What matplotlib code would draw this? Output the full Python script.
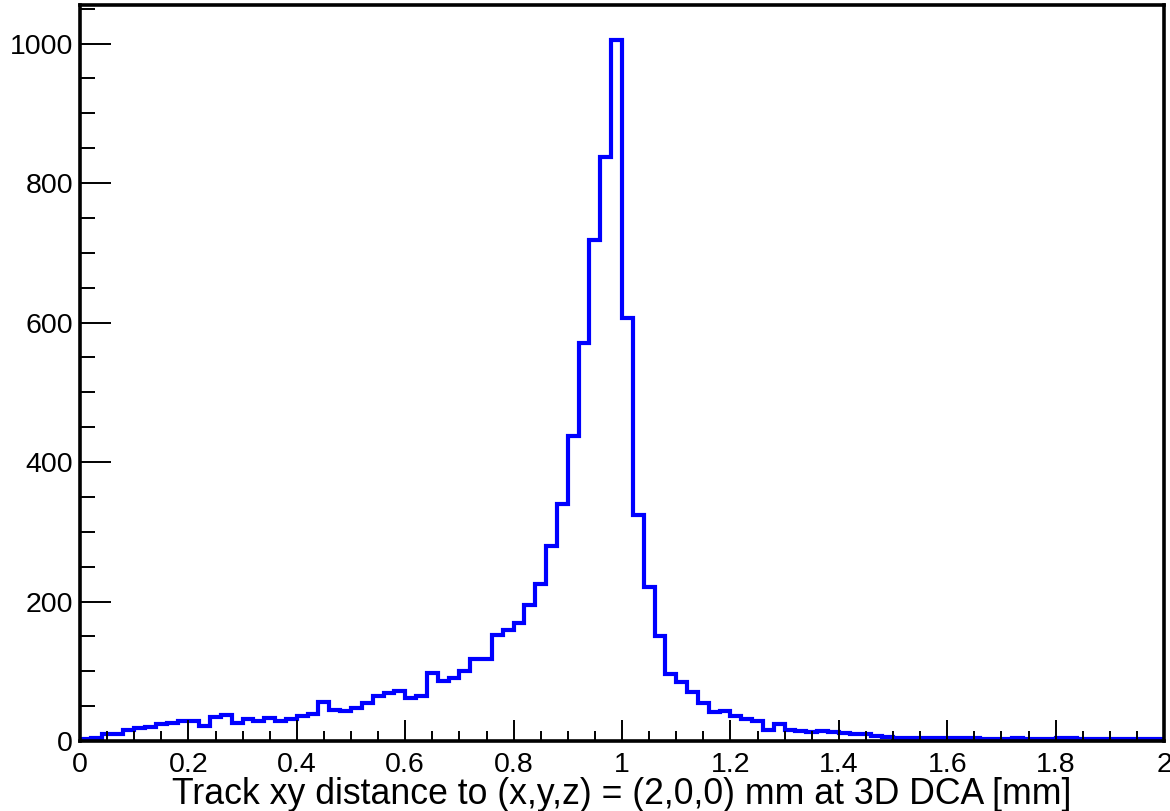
import numpy as np
import matplotlib
matplotlib.use("Agg")
import matplotlib.pyplot as plt

# bin edges: 100 bins from 0 to 2 mm
bin_lo = 0.0
bin_hi = 2.0
n_bins = 100

# counts per bin
counts = [
    3, 5, 10, 10, 16, 19, 20, 24, 26, 28,
    28, 21, 35, 37, 26, 32, 28, 33, 28, 32,
    36, 38, 56, 44, 43, 48, 55, 64, 69, 72,
    62, 65, 98, 86, 90, 101, 118, 118, 152, 159,
    169, 195, 225, 279, 340, 437, 570, 719, 837, 1005,
    606, 324, 221, 151, 96, 85, 70, 55, 41, 43,
    36, 31, 28, 16, 24, 16, 14, 13, 14, 13,
    12, 10, 10, 7, 6, 5, 5, 5, 5, 4,
    4, 4, 4, 3, 3, 3, 4, 3, 3, 3,
    4, 4, 3, 3, 3, 3, 3, 3, 3, 3,
]

x_ticks = [0, 0.2, 0.4, 0.6, 0.8, 1.0, 1.2, 1.4, 1.6, 1.8, 2.0]
x_tick_labels = ["0", "0.2", "0.4", "0.6", "0.8", "1", "1.2", "1.4", "1.6", "1.8", "2"]
y_ticks = [0, 200, 400, 600, 800, 1000]
x_title = "Track xy distance to (x,y,z) = (2,0,0) mm at 3D DCA [mm]"

plt.rcParams['font.family'] = ['Liberation Sans', 'DejaVu Sans']

W, H = 1170, 811
fig = plt.figure(figsize=(W / 100, H / 100), dpi=100)
ax = fig.add_axes([80 / W, 70 / H, (1164 - 80) / W, (741 - 5) / H])

edges = np.linspace(bin_lo, bin_hi, n_bins + 1)
ax.stairs(counts, edges, baseline=None, color='#0000ff', linewidth=3.0)

ax.set_xlim(bin_lo, bin_hi)
ax.set_ylim(0, max(counts) * 1.05)

ax.set_xticks(x_ticks)
ax.set_xticklabels(x_tick_labels)
ax.set_xticks(np.arange(0, 2.0001, 0.05), minor=True)
ax.set_yticks(y_ticks)
ax.set_yticks(np.arange(0, 1051, 50), minor=True)

ax.tick_params(axis='both', which='both', direction='in', width=1.4,
               top=False, right=False, labelsize=20.5)
ax.tick_params(axis='x', which='major', length=15, pad=8)
ax.tick_params(axis='x', which='minor', length=7.5)
ax.tick_params(axis='y', which='major', length=22.5, pad=5)
ax.tick_params(axis='y', which='minor', length=11)

for sp in ax.spines.values():
    sp.set_linewidth(2.6)

ax.set_xlabel(x_title, fontsize=25.7, labelpad=-0.5)

fig.savefig("out.png", dpi=100)
